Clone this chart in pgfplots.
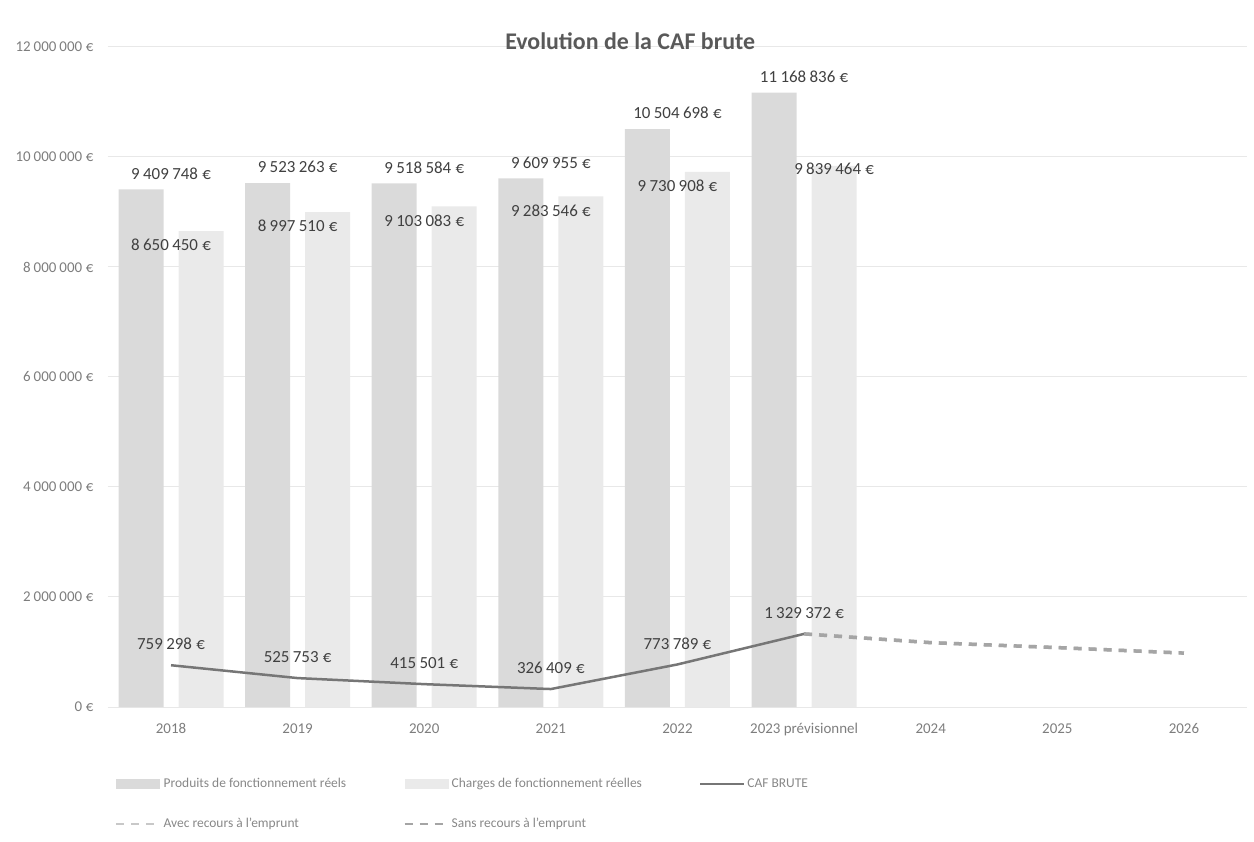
\documentclass[border=0pt]{standalone}
\usepackage{pgfplots}
\pgfplotsset{compat=1.18}
\usepackage{fontspec}
\setmainfont{Carlito}
\definecolor{prod}{RGB}{218,218,218}
\definecolor{charg}{RGB}{234,234,234}
\definecolor{caf}{RGB}{118,118,118}
\definecolor{avec}{RGB}{200,200,200}
\definecolor{sans}{RGB}{165,165,165}
\definecolor{titlec}{RGB}{89,89,89}
\definecolor{tickc}{RGB}{125,125,125}
\definecolor{labc}{RGB}{64,64,64}
\definecolor{legc}{RGB}{135,135,135}
\definecolor{gridc}{RGB}{232,232,232}
\newcommand{\s}{\hspace{0.2em}}
\newcommand{\e}{\hspace{0.25em}€}
\begin{document}
\begin{tikzpicture}
\begin{axis}[
  at={(107.7bp,135bp)}, anchor=south west,
  scale only axis, width=1139.6bp, height=660bp,
  xmin=-0.5, xmax=8.5, ymin=0, ymax=12000000,
  xtick={0,1,2,3,4,5,6,7,8},
  xticklabels={2018,2019,2020,2021,2022,2023 prévisionnel,2024,2025,2026},
  ytick={0,2000000,4000000,6000000,8000000,10000000,12000000},
  yticklabels={0\e,2\s000\s000\e,4\s000\s000\e,6\s000\s000\e,8\s000\s000\e,10\s000\s000\e,12\s000\s000\e},
  scaled y ticks=false,
  axis line style={draw=none},
  major tick length=0pt,
  ymajorgrids, grid style={gridc, line width=1bp},
  xticklabel style={anchor=base, yshift=-26bp, font=\fontsize{15}{18}\selectfont, text=tickc},
  yticklabel style={anchor=east, inner sep=0pt, xshift=-14bp, font=\fontsize{15}{18}\selectfont, text=tickc},
  title={Evolution de la CAF brute},
  title style={at={(0.4585,1)}, anchor=center, yshift=0bp, font=\fontsize{24}{28}\selectfont\bfseries, text=titlec},
  legend columns=3,
  legend cell align=left,
  legend style={at={(0.0064,-0.1470)}, anchor=west, draw=none, fill=none, inner sep=0pt,
    font=\fontsize{13.5}{16}\selectfont, text=legc, row sep=25bp,
    /tikz/every even column/.append style={column sep=55bp}},
  clip=false,
]
% Produits
\addplot[ybar, bar width=45bp, bar shift=-30bp, fill=prod, draw=none,
  point meta=explicit symbolic, nodes near coords,
  every node near coord/.append style={anchor=center, yshift=16bp, font=\fontsize{17}{20}\selectfont, text=labc},
  legend image code/.code={\fill[prod] (0bp,-5bp) rectangle (44bp,5bp);}]
coordinates {
(0,9409748) [9\s409\s748\e]
(1,9523263) [9\s523\s263\e]
(2,9518584) [9\s518\s584\e]
(3,9609955) [9\s609\s955\e]
(4,10504698) [10\s504\s698\e]
(5,11168836) [11\s168\s836\e]
};
\addlegendentry{Produits de fonctionnement réels}
% Charges
\addplot[ybar, bar width=45bp, bar shift=30bp, fill=charg, draw=none,
  point meta=explicit symbolic, nodes near coords,
  every node near coord/.append style={anchor=center, yshift=-14bp, font=\fontsize{17}{20}\selectfont, text=labc},
  legend image code/.code={\fill[charg] (0bp,-5bp) rectangle (44bp,5bp);}]
coordinates {
(0,8650450) [8\s650\s450\e]
(1,8997510) [8\s997\s510\e]
(2,9103083) [9\s103\s083\e]
(3,9283546) [9\s283\s546\e]
(4,9730908) [9\s730\s908\e]
(5,9839464) []
};
\addlegendentry{Charges de fonctionnement réelles}
% CAF brute
\addplot[caf, line width=2.5bp, mark=none,
  point meta=explicit symbolic, nodes near coords,
  every node near coord/.append style={anchor=center, yshift=21bp, font=\fontsize{17}{20}\selectfont, text=labc},
  legend image code/.code={\draw[caf, line width=2.5bp] (0bp,0bp) -- (44bp,0bp);}]
coordinates {
(0,759298) [759\s298\e]
(1,525753) [525\s753\e]
(2,415501) [415\s501\e]
(3,326409) [326\s409\e]
(4,773789) [773\s789\e]
(5,1329372) [1\s329\s372\e]
};
\addlegendentry{CAF BRUTE}
% Avec recours
\addplot[avec, line width=3.5bp, dash pattern=on 8bp off 7bp, mark=none,
  legend image code/.code={\draw[avec, line width=2.5bp, dash pattern=on 8bp off 7bp] (0bp,0bp) -- (44bp,0bp);}]
coordinates {(5,1329372) (6,1170000) (7,1080000) (8,980000)};
\addlegendentry{Avec recours à l’emprunt}
% Sans recours
\addplot[sans, line width=3.5bp, dash pattern=on 8bp off 7bp, mark=none,
  legend image code/.code={\draw[sans, line width=2.5bp, dash pattern=on 8bp off 7bp] (0bp,0bp) -- (44bp,0bp);}]
coordinates {(5,1329372) (6,1170000) (7,1080000) (8,980000)};
\addlegendentry{Sans recours à l’emprunt}
% label for 2023 charges
\addplot[draw=none, mark=none, forget plot,
  point meta=explicit symbolic, nodes near coords,
  every node near coord/.append style={anchor=center, xshift=30bp, yshift=-3bp, font=\fontsize{17}{20}\selectfont, text=labc}]
coordinates {(5,9839464) [9\s839\s464\e]};
\end{axis}
\pgfresetboundingbox
\path[use as bounding box] (0,0) rectangle (1254bp,842bp);
\end{tikzpicture}
\end{document}
